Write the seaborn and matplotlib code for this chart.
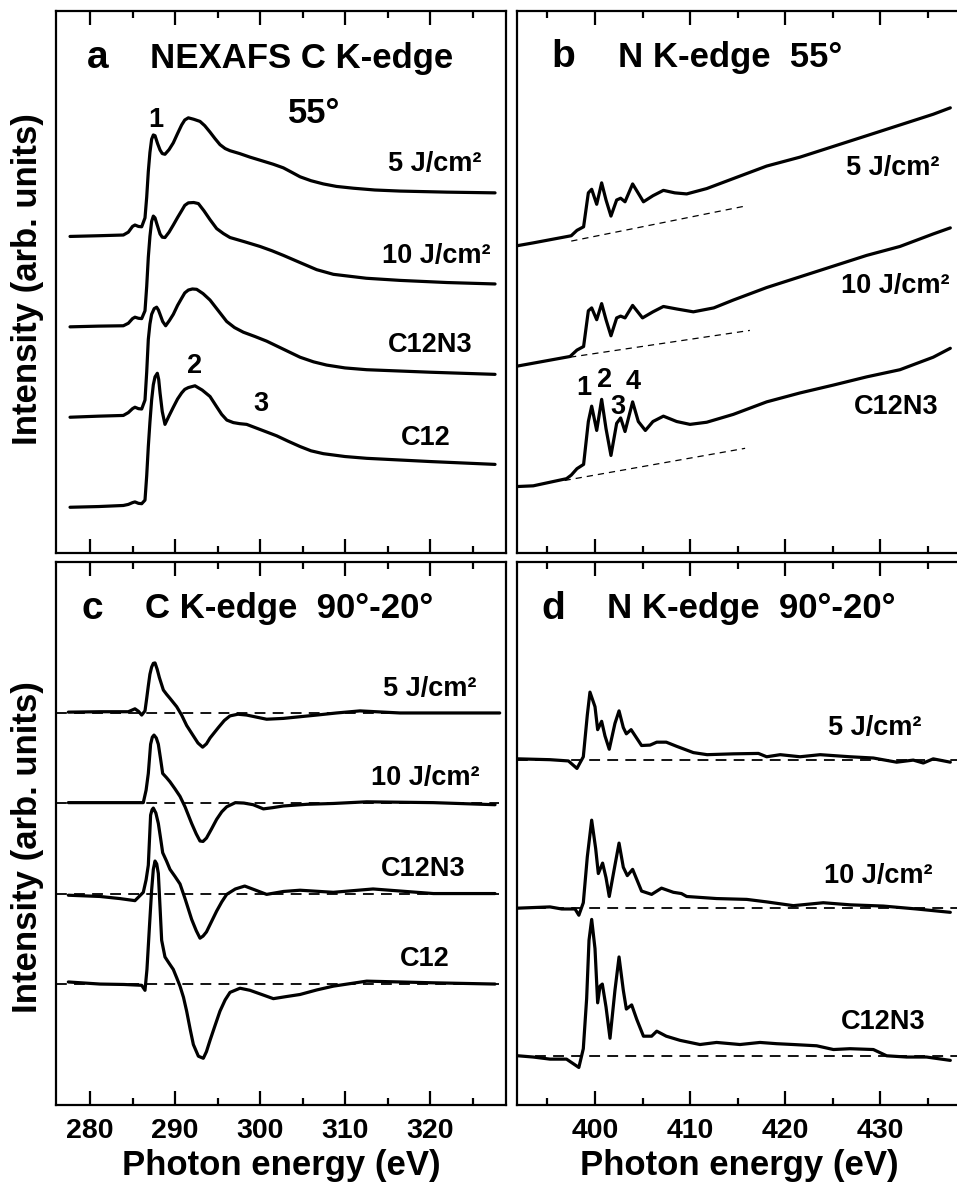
import matplotlib
matplotlib.use("Agg")
import matplotlib.pyplot as plt
from matplotlib.ticker import MultipleLocator
import seaborn as sns
import pandas as pd

sns.set_theme(style="ticks")
plt.rcParams["font.family"] = ["Liberation Sans", "DejaVu Sans"]
plt.rcParams["font.weight"] = "bold"
for k in ["text.color", "axes.labelcolor", "xtick.color", "ytick.color", "axes.edgecolor"]:
    plt.rcParams[k] = "black"

# ---------------- Panel a : C K-edge, 55 deg ----------------
a_5J_x = [277.65, 281, 283.92, 284.51, 285.0, 285.29, 285.7, 286.08, 286.47, 286.67, 286.86, 287.05, 287.25,
          287.45, 287.65, 287.95, 288.24, 288.5, 288.82, 289.3, 289.8, 290.3, 290.78, 291.15, 291.57, 292.2,
          292.94, 293.5, 294.12, 294.7, 295.29, 295.9, 296.47, 297.6, 298.82, 300.2, 301.57, 302.75, 303.7,
          304.71, 306, 307.45, 309, 310.98, 313.5, 316.47, 322, 327.65]
a_5J_y = [990, 992, 994, 1002, 1018, 1022, 1018, 1017, 1042, 1100, 1172, 1225, 1262, 1274, 1272, 1250, 1232,
          1222, 1220, 1233, 1252, 1278, 1302, 1316, 1322, 1318, 1312, 1300, 1282, 1264, 1247, 1236, 1230, 1222,
          1212, 1202, 1192, 1182, 1170, 1157, 1146, 1137, 1130, 1125, 1120, 1117, 1114, 1112]
a_10J_x = [277.65, 281, 283.92, 284.51, 285.0, 285.29, 285.7, 286.08, 286.47, 286.67, 286.86, 287.05, 287.25,
           287.45, 287.65, 287.84, 288.24, 288.5, 288.82, 289.3, 289.8, 290.3, 290.78, 291.15, 291.57, 292.2,
           292.75, 293.4, 294.12, 294.9, 295.7, 296.47, 298.2, 300.0, 301.4, 302.75, 304.7, 306.67, 308.63,
           312.5, 316.47, 322, 327.65]
a_10J_y = [737, 739, 740, 747, 760, 764, 761, 760, 782, 850, 932, 990, 1032, 1047, 1042, 1027, 997, 988, 987,
           1002, 1022, 1043, 1062, 1077, 1084, 1085, 1082, 1062, 1037, 1012, 998, 987, 975, 962, 950, 937, 917,
           897, 884, 873, 867, 861, 857]
a_C12N3_x = [277.65, 281, 283.92, 284.51, 285.0, 285.29, 285.7, 286.08, 286.47, 286.67, 286.86, 287.05,
             287.25, 287.55, 287.84, 288.05, 288.24, 288.55, 288.9, 289.35, 289.8, 290.3, 290.78, 291.15,
             291.57, 292.05, 292.55, 293.3, 294.12, 295.1, 296.08, 297, 298.04, 299.4, 300.78, 302.7, 304.71,
             306.3, 307.84, 310, 312.55, 320, 327.65]
a_C12N3_y = [484, 487, 489, 497, 508, 512, 508, 507, 532, 610, 702, 745, 772, 788, 792, 784, 772, 752, 740,
             755, 772, 797, 817, 832, 840, 843, 842, 830, 812, 782, 752, 735, 722, 710, 697, 675, 652, 639, 630,
             622, 617, 610, 604]
a_C12_x = [277.65, 281, 283.92, 284.51, 285.0, 285.29, 285.7, 286.08, 286.47, 286.67, 286.86, 287.05, 287.25,
           287.45, 287.65, 287.92, 288.08, 288.24, 288.5, 288.82, 289.3, 289.8, 290.3, 290.78, 291.15, 291.57,
           292.35, 293.2, 294.12, 294.8, 295.49, 296.1, 296.86, 297.6, 298.43, 300.2, 301.96, 303.3, 304.71,
           306, 307.45, 310, 312.55, 320, 327.65]
a_C12_y = [232, 234, 237, 240, 245, 247, 243, 242, 252, 320, 402, 470, 532, 575, 597, 607, 590, 552, 500, 464,
           488, 512, 535, 552, 562, 567, 572, 560, 542, 517, 492, 476, 469, 466, 464, 448, 432, 417, 402, 390,
           382, 374, 369, 360, 352]

# ---------------- Panel b : N K-edge, 55 deg ----------------
b_5J_x = [391.8, 393.5, 397.5, 398.1, 398.8, 399.3, 399.65, 400.18, 400.7, 401.16, 401.68, 402.28, 402.7,
          403.16, 403.96, 405.1, 406.1, 407.2, 408.4, 409.65, 411.76, 414.56, 418.07, 421.58, 425.09, 428.6,
          432.1, 435.6, 437.4]
b_5J_y = [964, 972, 992, 1007, 1017, 1112, 1122, 1080, 1140, 1092, 1047, 1092, 1097, 1087, 1137, 1087, 1104,
          1119, 1112, 1109, 1124, 1152, 1187, 1212, 1242, 1272, 1302, 1332, 1350]
b_10J_x = [391.8, 397.37, 398.1, 398.8, 399.3, 399.65, 400.18, 400.7, 401.16, 401.68, 402.28, 402.7, 403.16,
           403.96, 405.0, 406.1, 407.2, 408.6, 410.35, 412.5, 414.56, 418.07, 421.58, 425.09, 428.6, 432.1,
           435.6, 437.4]
b_10J_y = [627, 654, 672, 682, 782, 790, 757, 802, 757, 712, 762, 767, 762, 797, 762, 779, 794, 787, 779,
           790, 812, 847, 877, 907, 937, 962, 997, 1014]
b_C12N3_x = [391.8, 393.5, 397.0, 397.5, 398.1, 398.8, 399.3, 399.65, 400.18, 400.7, 401.16, 401.68, 402.28,
             402.7, 403.16, 403.96, 404.56, 405.3, 406.1, 407.2, 408.6, 410.0, 411.76, 414.56, 418.07, 421.58,
             425.09, 428.6, 432.1, 435.6, 437.4]
b_C12N3_y = [290, 292, 312, 322, 340, 352, 472, 515, 447, 534, 452, 377, 467, 482, 444, 527, 472, 447, 472,
             487, 472, 464, 470, 492, 527, 552, 574, 597, 617, 652, 677]
# pre-edge background lines (dashed)
b_bg_x = [[397.5, 415.8], [397.37, 416.3], [396.8, 415.8]]
b_bg_y = [[977, 1075], [652, 727], [307, 397]]

# ---------------- Panel c : C K-edge, 90-20 deg difference ----------------
c_5J_x = [277.45, 281.18, 284.51, 285.29, 285.7, 286.08, 286.47, 286.67, 286.86, 287.05, 287.25, 287.45,
          287.65, 287.9, 288.16, 288.63, 289.0, 289.41, 290.2, 290.78, 291.37, 292.16, 292.7, 293.25, 293.7,
          294.12, 295.1, 295.8, 296.47, 297.4, 298.43, 299.6, 300.78, 302.75, 304.7, 306.67, 309, 311.76,
          316.47, 322, 328.2]
c_5J_y = [942, 943, 943, 950, 944, 935, 945, 975, 1005, 1033, 1050, 1059, 1060, 1045, 1025, 995, 985, 975,
          955, 935, 910, 885, 868, 858, 866, 880, 905, 922, 933, 937, 935, 930, 925, 927, 931, 935, 940, 945,
          940, 940, 940]
c_10J_x = [277.45, 281.18, 286.27, 286.6, 286.86, 287.13, 287.33, 287.53, 287.8, 288.04, 288.3, 288.55, 289.0,
           289.41, 290.0, 290.59, 291.18, 291.96, 292.5, 292.94, 293.3, 293.7, 294.3, 294.9, 295.5, 296.08,
           297.1, 298.1, 299.2, 300.4, 301.5, 302.75, 305.5, 308.63, 312.55, 316.5, 320.4, 327.65]
c_10J_y = [725, 725, 725, 755, 795, 865, 882, 887, 880, 865, 830, 795, 785, 775, 758, 740, 715, 675, 650, 633,
           632, 640, 662, 685, 703, 715, 725, 724, 720, 710, 713, 717, 721, 723, 727, 726, 725, 720]
c_C12N3_x = [277.45, 281.18, 283.5, 285.29, 286.27, 286.6, 286.86, 287.13, 287.3, 287.45, 287.75, 288.04,
             288.3, 288.55, 289.0, 289.41, 290.0, 290.59, 291.18, 291.96, 292.5, 292.94, 293.3, 293.7, 294.3,
             294.9, 295.5, 296.08, 297.1, 298.2, 299.5, 300.78, 302.75, 304.71, 308.63, 313.3, 320.4, 327.65]
c_C12N3_y = [503, 500, 495, 490, 510, 540, 575, 695, 708, 712, 700, 675, 640, 605, 585, 565, 548, 530, 495,
             445, 418, 400, 405, 415, 440, 465, 487, 505, 518, 525, 515, 505, 512, 515, 510, 518, 507, 507]
c_C12_x = [277.45, 281.18, 284, 286.08, 286.47, 286.7, 287.0, 287.25, 287.45, 287.65, 287.85, 288.04, 288.25,
           288.43, 288.82, 289.3, 289.8, 290.2, 290.59, 291.0, 291.37, 291.8, 292.16, 292.75, 293.33, 293.7,
           294.12, 294.7, 295.29, 295.9, 296.47, 297.65, 298.82, 300.2, 301.57, 303.1, 304.71, 306.7, 308.63,
           312.55, 316.5, 320.4, 327.65]
c_C12_y = [295, 290, 289, 287, 275, 325, 430, 515, 565, 585, 578, 555, 470, 395, 355, 340, 325, 305, 285, 258,
           225, 180, 145, 117, 112, 128, 155, 190, 225, 252, 270, 280, 275, 265, 255, 260, 265, 276, 285, 297,
           295, 293, 290]
c_zero = [940, 723, 507, 290]

# ---------------- Panel d : N K-edge, 90-20 deg difference ----------------
d_5J_x = [391.9, 395.26, 397.2, 398.1, 398.77, 399.19, 399.47, 400.0, 400.28, 400.7, 401.05, 401.5, 402.1,
          402.53, 402.98, 403.3, 403.8, 404.9, 405.8, 406.5, 407.5, 408.6, 410.35, 411.8, 414.56, 417.2,
          418.07, 419.5, 421.58, 423.7, 426.84, 429.3, 431.75, 433.5, 434.56, 435.6, 437.4]
d_5J_y = [830, 828, 825, 807, 835, 935, 990, 955, 900, 920, 885, 853, 915, 945, 905, 890, 900, 862, 863,
          870, 870, 860, 845, 840, 842, 843, 835, 840, 835, 840, 835, 832, 822, 827, 820, 830, 822]
d_10J_x = [391.9, 395.26, 396.5, 397.9, 398.3, 398.77, 399.19, 399.65, 400.07, 400.35, 400.8, 401.16, 401.5,
           402.1, 402.53, 402.98, 403.4, 403.96, 404.9, 405.96, 407.0, 408.25, 409.1, 409.65, 412.8, 415.97,
           418.07, 420.88, 424.03, 426.84, 430.35, 433.86, 437.4]
d_10J_y = [472, 475, 470, 470, 455, 485, 595, 683, 615, 555, 580, 545, 500, 575, 628, 570, 550, 565, 513,
           505, 520, 510, 507, 500, 495, 493, 487, 478, 485, 480, 477, 470, 462]
d_C12N3_x = [391.9, 393.5, 395.26, 397.0, 398.3, 398.77, 399.12, 399.37, 399.65, 400.0, 400.28, 400.53,
             400.77, 401.16, 401.58, 402.1, 402.53, 402.98, 403.3, 403.86, 404.4, 405.1, 405.96, 406.5, 407.5,
             408.95, 411.05, 412.8, 415.26, 417.37, 419.12, 420.88, 423.33, 425.1, 426.84, 429.3, 430.7,
             432.8, 434.9, 437.4]
d_C12N3_y = [118, 115, 110, 110, 90, 135, 255, 395, 445, 375, 245, 285, 290, 235, 160, 275, 355, 275, 230,
             240, 205, 165, 165, 177, 165, 155, 145, 150, 145, 150, 147, 145, 142, 133, 135, 133, 118, 115,
             115, 107]
d_zero = [828, 472, 118]

# labels
sample_labels = ["5 J/cm²", "10 J/cm²", "C12N3", "C12"]

FS_TITLE = 25
FS_LAB = 19.5
FS_TICK = 20.5
FS_AXLAB = 25
LW = 2.3

W, H = 957, 1195
fig = plt.figure(figsize=(W / 100, H / 100), dpi=100)


def frac(l, t, r, b):
    return [l / W, 1 - b / H, (r - l) / W, (b - t) / H]


ax_a = fig.add_axes(frac(56, 11, 506, 553))
ax_b = fig.add_axes(frac(517, 11, 962, 553))
ax_c = fig.add_axes(frac(56, 562, 506, 1105))
ax_d = fig.add_axes(frac(517, 562, 962, 1105))


def curve(ax, x, y):
    df = pd.DataFrame({"E": x, "I": y})
    sns.lineplot(data=df, x="E", y="I", ax=ax, color="black", lw=LW,
                 estimator=None, sort=False, legend=False)
    ax.lines[-1].set_solid_joinstyle("round")
    ax.lines[-1].set_solid_capstyle("round")


for x, y in [(a_5J_x, a_5J_y), (a_10J_x, a_10J_y), (a_C12N3_x, a_C12N3_y), (a_C12_x, a_C12_y)]:
    curve(ax_a, x, y)
for x, y in [(b_5J_x, b_5J_y), (b_10J_x, b_10J_y), (b_C12N3_x, b_C12N3_y)]:
    curve(ax_b, x, y)
for x, y in zip(b_bg_x, b_bg_y):
    sns.lineplot(x=x, y=y, ax=ax_b, color="black", lw=0.9, legend=False)
    ax_b.lines[-1].set_linestyle((0, (5, 4)))
for x, y in [(c_5J_x, c_5J_y), (c_10J_x, c_10J_y), (c_C12N3_x, c_C12N3_y), (c_C12_x, c_C12_y)]:
    curve(ax_c, x, y)
for z in c_zero:
    ax_c.axhline(z, xmin=0.0, xmax=0.985, color="black", lw=1.3, ls=(0, (6, 4)), zorder=1)
for x, y in [(d_5J_x, d_5J_y), (d_10J_x, d_10J_y), (d_C12N3_x, d_C12N3_y)]:
    curve(ax_d, x, y)
for z in d_zero:
    ax_d.axhline(z, color="black", lw=1.3, ls=(0, (6, 4)), zorder=1)

for ax in (ax_a, ax_c):
    ax.set_xlim(276.0, 328.94)
for ax in (ax_b, ax_d):
    ax.set_xlim(391.79, 438.63)
for ax in (ax_a, ax_b, ax_c, ax_d):
    ax.xaxis.set_major_locator(MultipleLocator(10))
    ax.xaxis.set_minor_locator(MultipleLocator(5))
ax_a.set_ylim(104, 1621)
ax_b.set_ylim(104, 1621)
ax_c.set_ylim(0, 1302)
ax_d.set_ylim(0, 1302)

for ax in (ax_a, ax_b, ax_c, ax_d):
    ax.set_yticks([])
    ax.set_ylabel("")
    ax.set_xlabel("")
    for s in ax.spines.values():
        s.set_linewidth(1.6)
        s.set_color("black")
        s.set_visible(True)
    ax.tick_params(axis="x", which="major", direction="in", length=10, width=1.6,
                   top=True, bottom=True, color="black")
    ax.tick_params(axis="x", which="minor", direction="in", length=5, width=1.6,
                   top=True, bottom=True, color="black")
    ax.set_facecolor("white")

for ax in (ax_a, ax_b):
    ax.tick_params(axis="x", which="both", labelbottom=False)

ax_c.set_xticks([280, 290, 300, 310, 320])
ax_d.set_xticks([400, 410, 420, 430])
for ax in (ax_c, ax_d):
    ax.tick_params(axis="x", which="major", labelsize=FS_TICK, pad=9)
    ax.set_xticklabels([str(int(v)) for v in ax.get_xticks()], fontweight="bold", fontsize=FS_TICK)
    ax.set_xlabel("Photon energy (eV)", fontsize=FS_AXLAB, fontweight="bold", labelpad=4)

fig.text(28 / W, 1 - 279 / H, "Intensity (arb. units)", rotation=90, ha="center", va="center",
         fontsize=FS_AXLAB, fontweight="bold")
fig.text(28 / W, 1 - 847 / H, "Intensity (arb. units)", rotation=90, ha="center", va="center",
         fontsize=FS_AXLAB, fontweight="bold")


def txt(ax, x, y, s, size=FS_LAB, ha="center"):
    ax.text(x, y, s, ha=ha, va="center", fontsize=size, fontweight="bold")


# panel a text
txt(ax_a, 279.6, 1489, "a", FS_TITLE + 3, "left")
txt(ax_a, 287.06, 1489, "NEXAFS C K-edge", FS_TITLE, "left")
txt(ax_a, 306.35, 1334, "55°", FS_TITLE)
txt(ax_a, 287.73, 1317, "1")
txt(ax_a, 292.27, 627, "2")
txt(ax_a, 300.1, 522, "3")
for (xx, yy), s in zip([(320.6, 1194), (320.8, 934), (320.0, 687), (319.5, 427)], sample_labels):
    txt(ax_a, xx, yy, s)

# panel b text
txt(ax_b, 395.44, 1492, "b", FS_TITLE + 3, "left")
txt(ax_b, 402.46, 1492, "N K-edge  55°", FS_TITLE, "left")
for (xx, yy), s in zip([(431.3, 1182), (431.6, 852), (431.75, 512)], sample_labels[:3]):
    txt(ax_b, xx, yy, s)
for xx, yy, s in [(398.77, 567, "1"), (400.98, 587, "2"), (402.46, 512, "3"), (404.04, 584, "4")]:
    txt(ax_b, xx, yy, s)

# panel c text
txt(ax_c, 279.02, 1190, "c", FS_TITLE + 3, "left")
txt(ax_c, 286.47, 1190, "C K-edge  90°-20°", FS_TITLE, "left")
for (xx, yy), s in zip([(320.0, 997), (319.4, 783), (319.2, 565), (319.4, 350)], sample_labels):
    txt(ax_c, xx, yy, s)

# panel d text
txt(ax_d, 394.39, 1190, "d", FS_TITLE + 3, "left")
txt(ax_d, 401.23, 1190, "N K-edge  90°-20°", FS_TITLE, "left")
for (xx, yy), s in zip([(429.47, 905), (429.8, 550), (430.35, 200)], sample_labels[:3]):
    txt(ax_d, xx, yy, s)

fig.savefig("out.png", dpi=100, facecolor="white")
